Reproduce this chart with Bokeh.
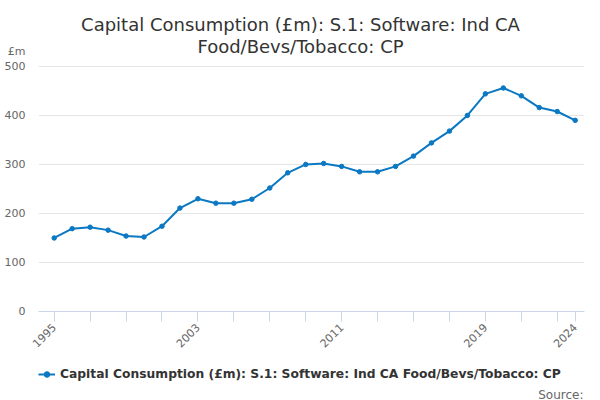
import math
from bokeh.plotting import figure
from bokeh.layouts import column
from bokeh.models import Range1d, FixedTicker, Legend, LegendItem, Label
from bokeh.embed import file_html
from bokeh.resources import INLINE

years = list(range(1995, 2025))
values = [150, 169, 172, 166, 154, 152, 174, 211, 230, 221, 221, 229, 252, 283, 300,
          302, 296, 285, 285, 296, 317, 344, 368, 400, 444, 456, 440, 416, 408, 390]
tick_years = list(range(1995, 2024, 2)) + [2024]
labelled_years = [1995, 2003, 2011, 2019, 2024]
y_ticks = [0, 100, 200, 300, 400, 500]
unit_tick = 530

title_line1 = "Capital Consumption (£m): S.1: Software: Ind CA"
title_line2 = "Food/Bevs/Tobacco: CP"
series_name = "Capital Consumption (£m): S.1: Software: Ind CA Food/Bevs/Tobacco: CP"
unit_label = "£m"
source_text = "Source:"

FONT = "DejaVu Sans"
BLUE = "#0a78c2"
GREY = "#666666"

# ---- main chart (frame reaches the top so the titles sit inside it) ----
p = figure(width=600, height=360, output_backend="svg", toolbar_location=None,
           title=None,
           x_range=Range1d(1994.126, 2024.518), y_range=Range1d(0, 634.5),
           min_border_left=38, min_border_right=16, min_border_top=0, min_border_bottom=49)
p.outline_line_color = None
p.background_fill_color = "white"
p.border_fill_color = "white"

p.yaxis.ticker = FixedTicker(ticks=y_ticks + [unit_tick])
p.yaxis.major_label_overrides = {unit_tick: unit_label}
p.yaxis.axis_line_color = None
p.yaxis.major_tick_line_color = None
p.yaxis.minor_tick_line_color = None
p.yaxis.major_label_standoff = 7
p.yaxis.major_label_text_font = FONT
p.yaxis.major_label_text_font_size = "11px"
p.yaxis.major_label_text_color = GREY

p.xaxis.ticker = FixedTicker(ticks=tick_years)
p.xaxis.major_label_overrides = {y: (str(y) if y in labelled_years else "") for y in tick_years}
p.xaxis.axis_line_color = "#ccd6eb"
p.xaxis.major_tick_line_color = "#ccd6eb"
p.xaxis.major_tick_out = 10
p.xaxis.major_tick_in = 0
p.xaxis.minor_tick_line_color = None
p.xaxis.major_label_orientation = math.pi / 4
p.xaxis.major_label_standoff = 4
p.xaxis.major_label_text_font = FONT
p.xaxis.major_label_text_font_size = "11px"
p.xaxis.major_label_text_color = GREY

p.xgrid.grid_line_color = None
p.ygrid.ticker = FixedTicker(ticks=y_ticks)
p.ygrid.grid_line_color = "#e6e6e6"

p.line(years, values, line_color=BLUE, line_width=2)
p.scatter(years, values, size=4.5, fill_color=BLUE, line_color=BLUE)

for txt, y in [(title_line1, 286.7), (title_line2, 265.3)]:
    p.add_layout(Label(x=262, y=y, x_units="screen", y_units="screen", text=txt,
                       text_align="center", text_baseline="alphabetic",
                       text_font=FONT, text_font_size="18px", text_color="#333333"))

# ---- legend / source strip ----
q = figure(width=600, height=40, output_backend="svg", toolbar_location=None,
           title=None, x_axis_location=None, y_axis_location=None,
           x_range=Range1d(0, 546), y_range=Range1d(0, 40), min_border=0)
q.outline_line_color = None
q.background_fill_color = "white"
q.border_fill_color = "white"
q.xgrid.visible = False
q.ygrid.visible = False
# same series, drawn outside this strip's ranges, only to give the legend its swatch
ql = q.line(years, values, line_color=BLUE, line_width=2)
qs = q.scatter(years, values, size=4.5, fill_color=BLUE, line_color=BLUE)

legend = Legend(items=[LegendItem(label=series_name, renderers=[ql, qs])],
                location=(0, 19), padding=0, margin=0, spacing=0,
                glyph_width=17, glyph_height=14, label_height=14, label_standoff=5,
                label_text_font=FONT, label_text_font_size="12.3px",
                label_text_font_style="bold", label_text_color="#333333",
                border_line_color=None, background_fill_alpha=0)
q.add_layout(legend, "center")

q.add_layout(Label(x=545, y=6, x_units="screen", y_units="screen", text=source_text,
                   text_align="right", text_baseline="alphabetic",
                   text_font=FONT, text_font_size="12px", text_color=GREY))

open("out.html", "w").write(file_html(column(p, q), INLINE))
